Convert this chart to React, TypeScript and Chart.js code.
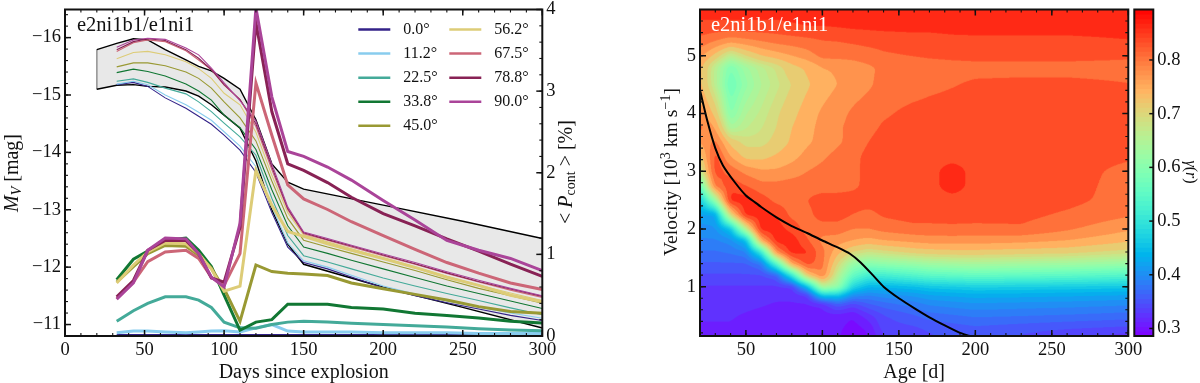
import React, { useEffect, useRef } from "react";
import { Chart, registerables } from "chart.js";

Chart.register(...registerables);

const FONT = '"Liberation Serif", serif';

// ---------- left panel ----------
const epochs = [32.5, 43, 52, 63, 76, 84, 92, 100, 110, 120, 130, 140, 150, 165, 180, 200, 220, 240, 260, 280, 300];
const angleLabels = ["0.0°", "11.2°", "22.5°", "33.8°", "45.0°", "56.2°", "67.5°", "78.8°", "90.0°"];
const angleColors = ["#332288", "#88CCEE", "#44AA99", "#117733", "#999933", "#DDCC77", "#CC6677", "#882255", "#AA4499"];

const magIndigo = [-15.18, -15.22, -15.15, -14.95, -14.77, -14.63, -14.49, -14.3, -14.04, -13.65, -12.95, -12.35, -12.08, -11.97, -11.83, -11.64, -11.5, -11.38, -11.27, -11.16, -11.07];
const magCyan = [-15.19, -15.24, -15.18, -15.0, -14.83, -14.7, -14.56, -14.36, -14.11, -13.75, -13.05, -12.42, -12.11, -12.0, -11.86, -11.67, -11.53, -11.41, -11.3, -11.2, -11.11];
const magTeal = [-15.24, -15.28, -15.22, -15.12, -15.02, -14.88, -14.71, -14.51, -14.27, -13.95, -13.2, -12.55, -12.2, -12.09, -11.97, -11.81, -11.67, -11.54, -11.42, -11.29, -11.17];
const magGreen = [-15.39, -15.45, -15.41, -15.33, -15.19, -15.07, -14.91, -14.65, -14.43, -14.05, -13.35, -12.72, -12.35, -12.24, -12.12, -11.97, -11.82, -11.67, -11.54, -11.41, -11.28];
const magOlive = [-15.49, -15.56, -15.56, -15.51, -15.4, -15.29, -15.12, -14.88, -14.6, -14.2, -13.5, -12.85, -12.47, -12.35, -12.24, -12.09, -11.94, -11.78, -11.63, -11.5, -11.37];
const magSand = [-15.63, -15.74, -15.76, -15.7, -15.58, -15.46, -15.29, -15.03, -14.83, -14.35, -13.6, -12.95, -12.56, -12.44, -12.32, -12.16, -12.0, -11.84, -11.69, -11.55, -11.42];
const magRose = [-15.76, -15.91, -15.96, -15.93, -15.77, -15.61, -15.44, -15.17, -14.92, -14.45, -13.7, -13.0, -12.58, -12.47, -12.35, -12.2, -12.05, -11.89, -11.74, -11.6, -11.47];
const magWine = [-15.79, -15.93, -15.98, -15.95, -15.79, -15.64, -15.44, -15.18, -14.92, -14.5, -13.75, -13.02, -12.6, -12.48, -12.37, -12.21, -12.06, -11.9, -11.75, -11.62, -11.49];
const magPurple = [-15.83, -15.96, -15.99, -15.97, -15.82, -15.7, -15.47, -15.21, -14.9, -14.55, -13.8, -13.05, -12.61, -12.5, -12.38, -12.23, -12.08, -11.92, -11.77, -11.63, -11.5];
const magSeries = [magIndigo, magCyan, magTeal, magGreen, magOlive, magSand, magRose, magWine, magPurple];

const polIndigo = [0.005, 0.005, 0.005, 0.005, 0.005, 0.005, 0.005, 0.005, 0.005, 0.005, 0.005, 0.005, 0.005, 0.005, 0.005, 0.005, 0.005, 0.005, 0.005, 0.005, 0.005];
const polCyan = [0.04, 0.06, 0.06, 0.05, 0.04, 0.05, 0.06, 0.065, 0.05, 0.1, 0.14, 0.06, 0.05, 0.05, 0.05, 0.04, 0.04, 0.04, 0.03, 0.03, 0.03];
const polTeal = [0.18, 0.31, 0.4, 0.48, 0.48, 0.44, 0.35, 0.17, 0.1, 0.095, 0.14, 0.17, 0.18, 0.17, 0.155, 0.14, 0.125, 0.11, 0.09, 0.075, 0.065];
const polGreen = [0.69, 0.94, 1.04, 1.17, 1.2, 1.05, 0.85, 0.5, 0.07, 0.17, 0.2, 0.39, 0.39, 0.39, 0.35, 0.33, 0.28, 0.25, 0.22, 0.18, 0.16];
const polOlive = [0.66, 0.85, 1.01, 1.11, 1.1, 0.99, 0.83, 0.58, 0.18, 0.87, 0.79, 0.77, 0.76, 0.74, 0.65, 0.58, 0.51, 0.44, 0.36, 0.3, 0.28];
const polSand = [0.65, 0.87, 1.03, 1.14, 1.13, 1.01, 0.82, 0.55, 0.61, 2.03, 1.6, 1.28, 1.22, 1.13, 1.05, 0.95, 0.84, 0.72, 0.62, 0.5, 0.42];
const polRose = [0.46, 0.66, 0.91, 1.03, 1.05, 0.95, 0.72, 0.62, 1.01, 3.1, 2.46, 1.85, 1.68, 1.55, 1.4, 1.23, 1.06, 0.9, 0.77, 0.65, 0.57];
const polWine = [0.48, 0.68, 1.05, 1.17, 1.17, 1.01, 0.71, 0.66, 1.33, 3.84, 2.75, 2.11, 2.03, 1.88, 1.7, 1.5, 1.35, 1.19, 1.04, 0.88, 0.73];
const polPurple = [0.45, 0.65, 1.05, 1.2, 1.19, 1.01, 0.72, 0.6, 1.38, 4.02, 2.93, 2.26, 2.2, 2.07, 1.91, 1.66, 1.42, 1.17, 1.05, 0.95, 0.8];
const polSeries = [polIndigo, polCyan, polTeal, polGreen, polOlive, polSand, polRose, polWine, polPurple];

const boundAges = [20, 32.5, 43, 52, 63, 76, 84, 92, 100, 110, 120, 130, 140, 150, 200, 250, 300];
const boundUpper = [-15.79, -15.9, -15.98, -15.96, -15.79, -15.61, -15.5, -15.42, -15.29, -15.1, -14.57, -13.8, -13.48, -13.36, -13.08, -12.8, -12.5];
const boundLower = [-15.1, -15.17, -15.18, -15.15, -15.14, -15.07, -14.98, -14.83, -14.65, -14.42, -13.85, -13.0, -12.4, -12.05, -11.65, -11.3, -10.94];

// ---------- right panel ----------
const gridAges = [20, 30, 40, 50, 60, 70, 80, 90, 100, 110, 120, 130, 140, 160, 170, 185, 200, 230, 260, 300];
const gridVelocities = [0.15, 0.3, 0.5, 0.7, 0.85, 1, 1.2, 1.4, 1.6, 1.8, 2, 2.25, 2.5, 2.75, 3, 3.25, 3.5, 3.75, 4, 4.5, 4.8, 5, 5.25, 5.5, 5.8];
const gammaByAge = [
  [.315, .315, .318, .32, .325, .33, .345, .36, .375, .39, .40, .42, .46, .56, .66, .71, .76, .80, .78, .74, .74, .77, .81, .84, .865],
  [.315, .315, .318, .32, .325, .33, .345, .36, .375, .39, .405, .42, .62, .80, .835, .835, .80, .76, .72, .66, .66, .72, .79, .84, .865],
  [.315, .315, .318, .32, .325, .33, .345, .36, .38, .40, .45, .70, .865, .84, .81, .76, .72, .64, .60, .57, .59, .66, .77, .84, .865],
  [.31, .31, .315, .32, .325, .33, .345, .36, .39, .44, .66, .865, .865, .82, .78, .72, .69, .665, .65, .615, .63, .70, .78, .84, .865],
  [.31, .31, .312, .318, .322, .33, .345, .38, .50, .75, .865, .865, .835, .80, .765, .72, .69, .68, .67, .65, .66, .73, .79, .84, .865],
  [.31, .31, .31, .315, .32, .328, .36, .54, .78, .865, .865, .85, .81, .80, .765, .735, .71, .70, .695, .675, .685, .745, .80, .84, .865],
  [.305, .305, .31, .315, .32, .33, .50, .76, .865, .87, .84, .81, .805, .805, .775, .75, .735, .73, .72, .70, .72, .76, .805, .845, .865],
  [.305, .305, .31, .315, .33, .44, .72, .835, .855, .825, .805, .81, .82, .805, .79, .77, .755, .75, .745, .725, .735, .775, .81, .85, .865],
  [.305, .305, .31, .32, .46, .65, .79, .80, .80, .78, .805, .835, .835, .805, .80, .785, .77, .77, .765, .745, .76, .80, .818, .85, .865],
  [.303, .305, .31, .36, .46, .62, .66, .70, .74, .775, .805, .835, .835, .805, .805, .80, .785, .785, .78, .76, .765, .80, .82, .852, .865],
  [.292, .295, .303, .34, .40, .48, .56, .62, .70, .76, .79, .82, .835, .812, .812, .81, .80, .80, .795, .775, .775, .80, .825, .855, .865],
  [.30, .305, .325, .36, .39, .44, .52, .60, .68, .75, .79, .81, .835, .83, .83, .83, .82, .81, .805, .785, .785, .805, .83, .856, .865],
  [.33, .34, .345, .37, .40, .44, .52, .61, .69, .76, .80, .825, .835, .835, .835, .835, .835, .825, .815, .80, .795, .815, .832, .858, .865],
  [.34, .345, .36, .385, .41, .45, .54, .62, .71, .77, .81, .835, .835, .835, .835, .835, .835, .835, .83, .805, .80, .822, .835, .86, .865],
  [.345, .35, .37, .395, .42, .46, .55, .63, .715, .775, .81, .835, .835, .835, .835, .835, .835, .835, .832, .812, .805, .825, .835, .86, .865],
  [.35, .355, .375, .40, .425, .465, .555, .635, .72, .775, .812, .835, .835, .87, .87, .835, .835, .835, .835, .818, .808, .828, .84, .862, .865],
  [.35, .36, .38, .405, .43, .47, .56, .64, .72, .775, .81, .835, .835, .835, .835, .835, .835, .835, .835, .825, .81, .83, .84, .865, .865],
  [.345, .355, .378, .402, .428, .468, .555, .635, .715, .77, .815, .83, .835, .835, .835, .835, .835, .835, .835, .827, .81, .83, .84, .865, .865],
  [.335, .35, .375, .40, .425, .465, .55, .63, .71, .76, .795, .815, .83, .835, .835, .835, .835, .835, .835, .827, .81, .83, .84, .865, .868],
  [.325, .345, .37, .395, .42, .46, .54, .62, .69, .735, .765, .795, .805, .805, .81, .825, .835, .835, .835, .821, .81, .825, .848, .865, .87],
];
const contourLevels = [.286, .3012, .3164, .3316, .3468, .362, .3772, .3924, .4076, .4228, .438, .4532, .4684, .4836, .4988, .514, .5292, .5444, .5596, .5748, .59, .6052, .6204, .6356, .6508, .666, .6812, .70, .73, .76, .79, .82, .85, .875];
const contourAges = [20, 25, 30, 35, 43, 50, 55, 60, 70, 80, 90, 100, 110, 118, 125, 133, 140, 150, 160, 170, 180, 190, 196];
const contourVelocity = [4.4, 3.85, 3.4, 3.1, 2.8, 2.58, 2.48, 2.38, 2.2, 2.05, 1.93, 1.8, 1.68, 1.57, 1.42, 1.2, 1.0, 0.8, 0.63, 0.47, 0.33, 0.2, 0.15];

const GAMMA_MIN = 0.286;
const GAMMA_MAX = 0.894;

const rainbow = (v: number) => {
  const t = Math.min(1, Math.max(0, (v - GAMMA_MIN) / (GAMMA_MAX - GAMMA_MIN)));
  return [
    Math.round(255 * Math.min(1, Math.abs(2 * t - 0.5))),
    Math.round(255 * Math.sin(Math.PI * t)),
    Math.round(255 * Math.cos((Math.PI * t) / 2)),
  ];
};

// ---------- plugins ----------
type Run = { t: string; font: string; dy?: number };

function drawRuns(ctx: any, x: number, y: number, angle: number, runs: Run[], color = "#111") {
  ctx.save();
  ctx.translate(x, y);
  ctx.rotate(angle);
  ctx.fillStyle = color;
  ctx.textBaseline = "middle";
  ctx.textAlign = "left";
  let total = 0;
  runs.forEach((r) => {
    ctx.font = r.font;
    total += ctx.measureText(r.t).width;
  });
  let cx = -total / 2;
  runs.forEach((r) => {
    ctx.font = r.font;
    ctx.fillText(r.t, cx, r.dy || 0);
    cx += ctx.measureText(r.t).width;
  });
  ctx.restore();
}

const framePlugin = {
  id: "frameTicks",
  afterDatasetsDraw(chart: any, _a: any, opts: any) {
    const { ctx, chartArea: a } = chart;
    ctx.save();
    ctx.strokeStyle = "#111";
    (opts.axes || []).forEach((ax: any) => {
      const s = chart.scales[ax.id];
      const mark = (v: number, len: number, w: number) => {
        const p = s.getPixelForValue(v);
        ctx.lineWidth = w;
        ctx.beginPath();
        (ax.sides as string[]).forEach((side) => {
          if (side === "left") { ctx.moveTo(a.left, p); ctx.lineTo(a.left + len, p); }
          if (side === "right") { ctx.moveTo(a.right, p); ctx.lineTo(a.right - len, p); }
          if (side === "bottom") { ctx.moveTo(p, a.bottom); ctx.lineTo(p, a.bottom - len); }
          if (side === "top") { ctx.moveTo(p, a.top); ctx.lineTo(p, a.top + len); }
        });
        ctx.stroke();
      };
      if (ax.minor) {
        const start = Math.ceil(s.min / ax.minor);
        const end = Math.floor(s.max / ax.minor);
        for (let k = start; k <= end; k++) mark(k * ax.minor, 3, 1.1);
      }
      s.ticks.forEach((t: any) => mark(t.value, ax.major || 6, 1.5));
    });
    ctx.lineWidth = 2;
    ctx.strokeRect(a.left, a.top, a.right - a.left, a.bottom - a.top);
    ctx.restore();
  },
  afterDraw(chart: any, _a: any, opts: any) {
    if (opts.draw) opts.draw(chart, chart.ctx);
  },
};

const heatPlugin = {
  id: "gammaField",
  beforeDatasetsDraw(chart: any, _a: any, opts: any) {
    if (!opts.on) return;
    const { ctx, chartArea: a, scales } = chart;
    const S = 2;
    const w = Math.round((a.right - a.left) * S);
    const h = Math.round((a.bottom - a.top) * S);
    const off = document.createElement("canvas");
    off.width = w;
    off.height = h;
    const oc = off.getContext("2d")!;
    const img = oc.createImageData(w, h);
    const bands = contourLevels.slice(0, -1).map((e, i) => rainbow((e + contourLevels[i + 1]) / 2));
    const loc = (arr: number[], v: number) => {
      let i = 0;
      while (i < arr.length - 2 && arr[i + 1] < v) i++;
      const f = Math.min(1, Math.max(0, (v - arr[i]) / (arr[i + 1] - arr[i])));
      return [i, f];
    };
    const cols = [] as number[][];
    for (let px = 0; px < w; px++) cols.push(loc(gridAges, scales.x.getValueForPixel(a.left + (px + 0.5) / S)));
    let field = new Float32Array(w * h);
    for (let py = 0; py < h; py++) {
      const [j, fy] = loc(gridVelocities, scales.y.getValueForPixel(a.top + (py + 0.5) / S));
      for (let px = 0; px < w; px++) {
        const [i, fx] = cols[px];
        field[py * w + px] =
          (1 - fx) * ((1 - fy) * gammaByAge[i][j] + fy * gammaByAge[i][j + 1]) +
          fx * ((1 - fy) * gammaByAge[i + 1][j] + fy * gammaByAge[i + 1][j + 1]);
      }
    }
    // round the contour corners: two box passes over the sampled field
    const R = opts.smooth || 6;
    for (let pass = 0; pass < 2; pass++) {
      const next = new Float32Array(w * h);
      for (let y = 0; y < h; y++) {
        for (let x = 0; x < w; x++) {
          let sum = 0;
          for (let k = -R; k <= R; k++) sum += field[y * w + Math.min(w - 1, Math.max(0, x + k))];
          next[y * w + x] = sum / (2 * R + 1);
        }
      }
      const next2 = new Float32Array(w * h);
      for (let y = 0; y < h; y++) {
        for (let x = 0; x < w; x++) {
          let sum = 0;
          for (let k = -R; k <= R; k++) sum += next[Math.min(h - 1, Math.max(0, y + k)) * w + x];
          next2[y * w + x] = sum / (2 * R + 1);
        }
      }
      field = next2;
    }
    for (let o = 0; o < w * h; o++) {
      const v = field[o];
      let b = 0;
      while (b < bands.length - 1 && contourLevels[b + 1] <= v) b++;
      const c = bands[b];
      img.data[o * 4] = c[0];
      img.data[o * 4 + 1] = c[1];
      img.data[o * 4 + 2] = c[2];
      img.data[o * 4 + 3] = 255;
    }
    oc.putImageData(img, 0, 0);
    ctx.save();
    ctx.imageSmoothingEnabled = true;
    ctx.imageSmoothingQuality = "high";
    ctx.drawImage(off, a.left, a.top, a.right - a.left, a.bottom - a.top);
    ctx.restore();
  },
};

const minusLabel = (v: any) => String(v).replace("-", "\u2212");
const fixedSize = (prop: "width" | "height", n: number) => (s: any) => {
  s[prop] = n;
  s.paddingLeft = 0;
  s.paddingRight = 0;
  s.paddingTop = 0;
  s.paddingBottom = 0;
};
const tickFont = { family: FONT, size: 18.5 };
const titleFont = { family: FONT, size: 20 };
const noGrid = { display: false, drawTicks: false };
const serif = (n: number, style = "") => `${style} ${n}px ${FONT}`;

function leftConfig(): any {
  const thin = angleColors.map((c, i) => ({
    label: angleLabels[i],
    data: epochs.map((x, k) => ({ x, y: magSeries[i][k] })),
    borderColor: c,
    borderWidth: 1.1,
    yAxisID: "y",
    order: 30 - i,
    pointRadius: 0,
    fill: false,
  }));
  const thick = angleColors.map((c, i) => ({
    label: angleLabels[i] + " P",
    data: epochs.map((x, k) => ({ x, y: polSeries[i][k] })),
    borderColor: c,
    borderWidth: 3,
    yAxisID: "y1",
    order: 20 - i,
    pointRadius: 0,
    fill: false,
  }));
  const bounds = [
    {
      label: "upper",
      data: boundAges.map((x, k) => ({ x, y: boundUpper[k] })),
      borderColor: "#000",
      borderWidth: 1.4,
      backgroundColor: "rgba(150,150,150,0.22)",
      fill: "+1",
      yAxisID: "y",
      order: 40,
      pointRadius: 0,
    },
    {
      label: "lower",
      data: boundAges.map((x, k) => ({ x, y: boundLower[k] })),
      borderColor: "#000",
      borderWidth: 1.4,
      fill: false,
      yAxisID: "y",
      order: 41,
      pointRadius: 0,
    },
    {
      label: "edge",
      data: [{ x: boundAges[0], y: boundUpper[0] }, { x: boundAges[0], y: boundLower[0] }],
      borderColor: "#999",
      borderWidth: 1,
      fill: false,
      yAxisID: "y",
      order: 42,
      pointRadius: 0,
    },
  ];
  return {
    type: "line",
    data: { datasets: [...bounds, ...thin, ...thick] },
    plugins: [framePlugin],
    options: {
      animation: false,
      responsive: false,
      layout: { padding: { top: 9.5, left: 0, right: 0, bottom: 0 } },
      elements: { line: { tension: 0 } },
      scales: {
        x: {
          type: "linear",
          min: 0,
          max: 300,
          grid: noGrid,
          border: { display: false },
          afterFit: fixedSize("height", 47),
          ticks: { stepSize: 50, font: tickFont, color: "#111", padding: 3, maxRotation: 0 },
          title: { display: true, text: "Days since explosion", font: titleFont, color: "#111", padding: { top: 0, bottom: -2 } },
        },
        y: {
          type: "linear",
          reverse: true,
          min: -16.49,
          max: -10.8,
          grid: noGrid,
          border: { display: false },
          afterFit: fixedSize("width", 65),
          ticks: { stepSize: 1, font: tickFont, color: "#111", padding: 4, includeBounds: false, callback: minusLabel },
        },
        y1: {
          type: "linear",
          position: "right",
          min: 0,
          max: 4,
          grid: noGrid,
          border: { display: false },
          afterFit: fixedSize("width", 57.7),
          ticks: { stepSize: 1, font: tickFont, color: "#111", padding: 4 },
        },
      },
      plugins: {
        legend: { display: false },
        tooltip: { enabled: false },
        filler: { drawTime: "beforeDatasetsDraw" },
        frameTicks: {
          axes: [
            { id: "x", sides: ["bottom", "top"], minor: 10 },
            { id: "y", sides: ["left"], minor: 0.2 },
            { id: "y1", sides: ["right"], minor: 0.2 },
          ],
          draw(_c: any, ctx: any) {
            ctx.save();
            ctx.font = serif(20.5);
            ctx.fillStyle = "#111";
            ctx.textBaseline = "middle";
            ctx.fillText("e2ni1b1/e1ni1", 77, 26);
            ctx.font = serif(16);
            const rows = [29.5, 53.5, 77.7, 101.7, 125.7];
            angleLabels.forEach((lab, i) => {
              const col = i < 5 ? 0 : 1;
              const y = rows[i < 5 ? i : i - 5];
              const x0 = col === 0 ? 358.3 : 449.3;
              ctx.strokeStyle = angleColors[i];
              ctx.lineWidth = 2.6;
              ctx.beginPath();
              ctx.moveTo(x0, y);
              ctx.lineTo(x0 + 32, y);
              ctx.stroke();
              ctx.fillText(lab, x0 + 45, y);
            });
            ctx.restore();
            drawRuns(ctx, 13, 173, -Math.PI / 2, [
              { t: "M", font: serif(20, "italic") },
              { t: "V", font: serif(14, "italic"), dy: 4 },
              { t: " [mag]", font: serif(20) },
            ]);
            drawRuns(ctx, 567, 172, -Math.PI / 2, [
              { t: "< ", font: serif(20) },
              { t: "P", font: serif(20, "italic") },
              { t: "cont", font: serif(14), dy: 4 },
              { t: " > [%]", font: serif(20) },
            ]);
          },
        },
      },
    },
  };
}

function rightConfig(): any {
  return {
    type: "line",
    data: {
      datasets: [
        {
          label: "age-velocity",
          data: contourAges.map((x, k) => ({ x, y: contourVelocity[k] })),
          borderColor: "#000",
          borderWidth: 2,
          pointRadius: 0,
          fill: false,
          tension: 0.2,
        },
      ],
    },
    plugins: [heatPlugin, framePlugin],
    options: {
      animation: false,
      responsive: false,
      layout: { padding: { top: 9.5, left: 0, right: 21.7, bottom: 0 } },
      scales: {
        x: {
          type: "linear",
          min: 20,
          max: 300,
          grid: noGrid,
          border: { display: false },
          afterFit: fixedSize("height", 47),
          ticks: { stepSize: 50, font: tickFont, color: "#111", padding: 3, maxRotation: 0, includeBounds: false },
          title: { display: true, text: "Age [d]", font: titleFont, color: "#111", padding: { top: 0, bottom: -2 } },
        },
        y: {
          type: "linear",
          min: 0.146,
          max: 5.8,
          grid: noGrid,
          border: { display: false },
          afterFit: fixedSize("width", 50),
          ticks: { stepSize: 1, font: tickFont, color: "#111", padding: 4, includeBounds: false },
        },
      },
      plugins: {
        legend: { display: false },
        tooltip: { enabled: false },
        gammaField: { on: true, smooth: 5 },
        frameTicks: {
          axes: [
            { id: "x", sides: ["bottom", "top"], minor: 10 },
            { id: "y", sides: ["left", "right"], minor: 0.2 },
          ],
          draw(_c: any, ctx: any) {
            ctx.save();
            ctx.font = serif(20.5);
            ctx.fillStyle = "#fff";
            ctx.textBaseline = "middle";
            ctx.fillText("e2ni1b1/e1ni1", 61, 26);
            ctx.restore();
            drawRuns(ctx, 21.5, 172, -Math.PI / 2, [
              { t: "Velocity [10", font: serif(19.7) },
              { t: "3", font: serif(14), dy: -5 },
              { t: " km s", font: serif(19.7) },
              { t: "\u22121", font: serif(14), dy: -5 },
              { t: "]", font: serif(19.7) },
            ]);
          },
        },
      },
    },
  };
}

function barConfig(): any {
  const steps = 70;
  const dw = (GAMMA_MAX - GAMMA_MIN) / steps;
  const datasets = Array.from({ length: steps }, (_, i) => {
    const lo = GAMMA_MIN + i * dw;
    const c = rainbow(lo + dw / 2);
    return {
      label: `b${i}`,
      data: [[lo, Math.min(GAMMA_MAX, lo + dw * 1.4)]],
      backgroundColor: `rgb(${c[0]},${c[1]},${c[2]})`,
      order: steps - i,
      barPercentage: 1,
      categoryPercentage: 1,
    };
  });
  return {
    type: "bar",
    data: { labels: ["gamma"], datasets },
    plugins: [framePlugin],
    options: {
      animation: false,
      responsive: false,
      layout: { padding: { top: 9.5, left: 4.3, right: 0, bottom: 47 } },
      scales: {
        x: { display: false, stacked: false },
        y: {
          type: "linear",
          position: "right",
          min: GAMMA_MIN,
          max: GAMMA_MAX,
          grid: noGrid,
          border: { display: false },
          afterFit: fixedSize("width", 46.7),
          ticks: { stepSize: 0.1, font: tickFont, color: "#111", padding: 4, includeBounds: false, callback: (v: any) => Number(v).toFixed(1) },
        },
      },
      datasets: { bar: { grouped: false } },
      plugins: {
        legend: { display: false },
        tooltip: { enabled: false },
        frameTicks: {
          axes: [{ id: "y", sides: ["right"], major: 4 }],
          draw(_c: any, ctx: any) {
            drawRuns(ctx, 60.5, 172, Math.PI / 2, [
              { t: "\u03B3", font: serif(16, "italic") },
              { t: "(", font: serif(16) },
              { t: "r", font: serif(16, "italic") },
              { t: ")", font: serif(16) },
            ]);
          },
        },
      },
    },
  };
}

function Panel({ left, width, make }: { left: number; width: number; make: () => any }) {
  const ref = useRef<HTMLCanvasElement | null>(null);
  useEffect(() => {
    const chart = new Chart(ref.current as HTMLCanvasElement, make());
    return () => chart.destroy();
  }, []);
  return <canvas ref={ref} width={width} height={383} style={{ position: "absolute", left, top: 0, width, height: 383 }} />;
}

export default function App() {
  return (
    <div style={{ position: "absolute", left: 0, top: 0, width: 1200, height: 383, background: "#fff", overflow: "hidden" }}>
      <Panel left={0} width={600} make={leftConfig} />
      <Panel left={650} width={500} make={rightConfig} />
      <Panel left={1130} width={70} make={barConfig} />
    </div>
  );
}
